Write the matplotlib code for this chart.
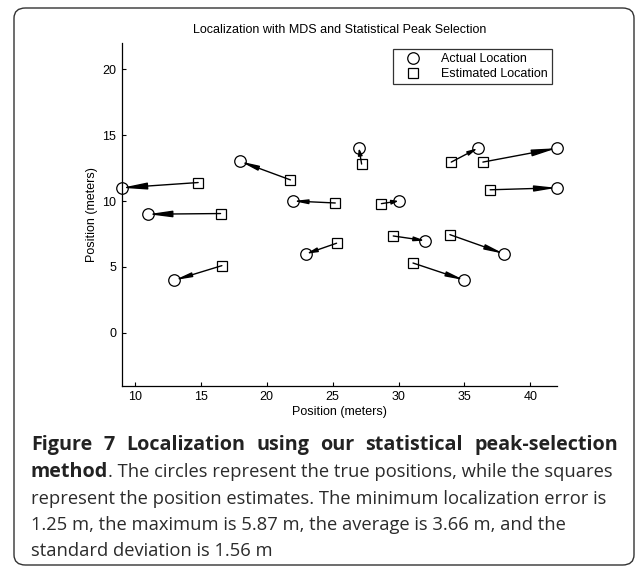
import matplotlib
matplotlib.use('Agg')
import matplotlib.pyplot as plt
from matplotlib.patches import FancyBboxPatch
import numpy as np

# true node positions (circles) and MDS estimates (squares), metres
actualX = [9, 11, 13, 18, 22, 23, 27, 30, 32, 35, 36, 42, 42, 38]
actualY = [11, 9, 4, 13, 10, 6, 14, 10, 7, 4, 14, 14, 11, 6]
estX = [14.8, 16.5, 16.6, 21.8, 25.2, 25.3, 27.2, 28.7, 29.6, 31.1, 34.0, 36.4, 36.95, 33.9]
estY = [11.4, 9.05, 5.1, 11.6, 9.85, 6.8, 12.8, 9.8, 7.35, 5.3, 12.95, 12.95, 10.85, 7.45]

xTicks = [10, 15, 20, 25, 30, 35, 40]
yTicks = [0, 5, 10, 15, 20]

captionBold = "Figure 7 Localization using our statistical peak-selection"
captionLines = [
    ("method", ". The circles represent the true positions, while the squares"),
    ("", "represent the position estimates. The minimum localization error is"),
    ("", "1.25 m, the maximum is 5.87 m, the average is 3.66 m, and the"),
    ("", "standard deviation is 1.56 m"),
]

W, H = 637, 570
fig = plt.figure(figsize=(W / 100.0, H / 100.0), dpi=100)
fig.patch.set_facecolor('white')

# rounded frame around plot + caption
frame = FancyBboxPatch((14.0 / W, 1 - 565.0 / H), (634.0 - 14.0) / W, (565.0 - 8.0) / H,
                       boxstyle="round,pad=0,rounding_size=0.018",
                       transform=fig.transFigure, fill=False,
                       edgecolor='#333333', linewidth=1.0)
fig.patches.append(frame)

ax = fig.add_axes([121.7 / W, 1 - 385.7 / H, (556.7 - 121.7) / W, (385.7 - 42.7) / H])
tickFont = {'family': 'Liberation Sans', 'size': 9}

pxPerUnit = 13.2
for i in range(len(actualX)):
    dx = actualX[i] - estX[i]; dy = actualY[i] - estY[i]
    L = np.hypot(dx, dy) * pxPerUnit / 1.389  # length in points
    hl = max(4.0, 0.27 * L)
    hw = max(1.3, 0.037 * L)
    ax.annotate('', xy=(actualX[i], actualY[i]), xytext=(estX[i], estY[i]),
                arrowprops=dict(arrowstyle='-|>,head_length=%.2f,head_width=%.2f' % (hl, hw),
                                mutation_scale=1, color='black', lw=1.0,
                                shrinkA=0, shrinkB=0), annotation_clip=False)

ax.plot(actualX, actualY, 'o', ms=8.3, mfc='none', mec='black', mew=0.9,
        clip_on=False, label='Actual Location', zorder=5)
ax.plot(estX, estY, 's', ms=7.2, mfc='none', mec='black', mew=0.9,
        clip_on=False, label='Estimated Location', zorder=5)

ax.set_xlim(9, 42)
ax.set_ylim(-4, 22)
ax.set_xticks(xTicks)
ax.set_yticks(yTicks)
ax.set_xticklabels([str(v) for v in xTicks], fontdict=tickFont)
ax.set_yticklabels([str(v) for v in yTicks], fontdict=tickFont)
ax.tick_params(direction='in', length=3, width=0.8, pad=4)
for s in ['top', 'right']:
    ax.spines[s].set_visible(False)
for s in ['left', 'bottom']:
    ax.spines[s].set_linewidth(0.9)

ax.set_xlabel('Position (meters)', fontdict=tickFont, labelpad=2)
ax.set_ylabel('Position (meters)', fontdict=tickFont, labelpad=3)
ax.set_title('Localization with MDS and Statistical Peak Selection', fontdict=tickFont, pad=7)

leg = ax.legend(loc='upper right', prop={'family': 'Liberation Sans', 'size': 9},
                frameon=True, fancybox=False, edgecolor='black', borderpad=0.35,
                labelspacing=0.2, handlelength=2.5, handletextpad=0.95, borderaxespad=0,
                bbox_to_anchor=(552.0 / W, 1 - 49.0 / H), bbox_transform=fig.transFigure)
leg.get_frame().set_linewidth(0.9)

# caption, drawn line by line
capColor = '#2b2b2b'
capSize = 13.2
boldSize = 14.2
x0 = 31.0 / W
xRight = 618.0 / W
baselines = [450, 477, 503.5, 530, 556.5]
renderer = fig.canvas.get_renderer()

# first line is bold and spread across the full text width
words = captionBold.split(' ')
wTexts = [fig.text(0, 1 - baselines[0] / H, w, family='Open Sans', weight='bold',
                   size=boldSize, color='#222222', va='baseline') for w in words]
widths = [t.get_window_extent(renderer).width / W for t in wTexts]
gap = (xRight - x0 - sum(widths)) / (len(words) - 1)
x = x0
for t, w in zip(wTexts, widths):
    t.set_x(x)
    x += w + gap

for j, (boldPart, rest) in enumerate(captionLines):
    y = 1 - baselines[j + 1] / H
    x = x0
    if boldPart:
        t = fig.text(x, y, boldPart, family='Open Sans', weight='bold', size=boldSize,
                     color='#222222', va='baseline')
        bb = t.get_window_extent(renderer)
        x = x + bb.width / W
    fig.text(x, y, rest, family='Open Sans', size=capSize, color=capColor, va='baseline')

fig.savefig('out.png', dpi=100)
